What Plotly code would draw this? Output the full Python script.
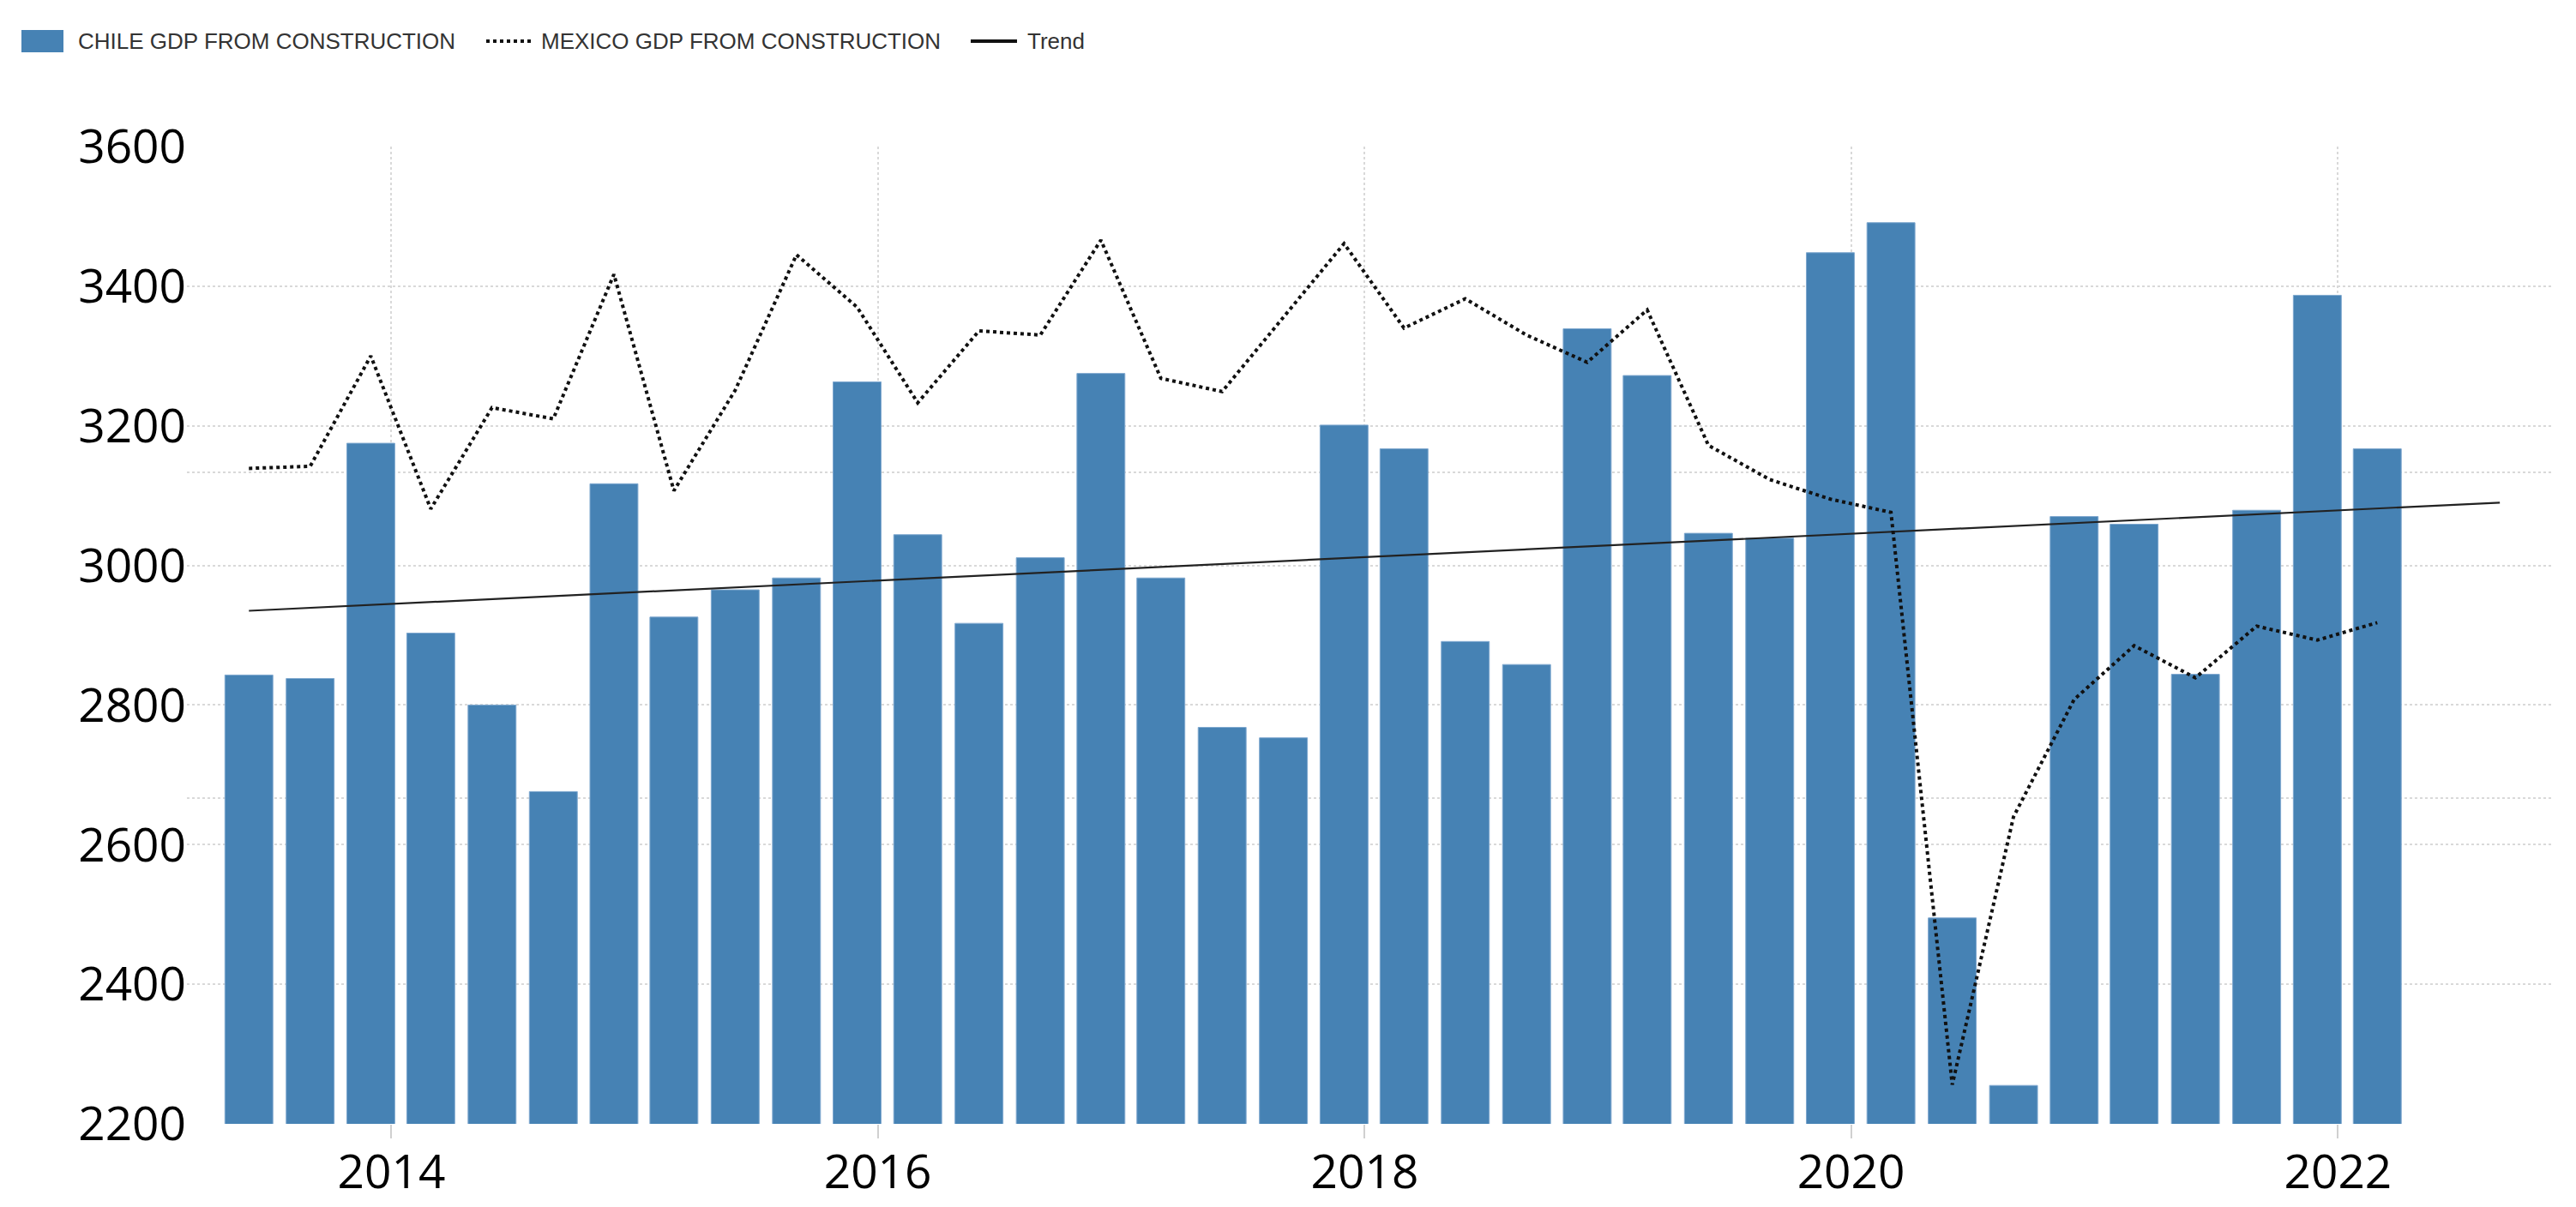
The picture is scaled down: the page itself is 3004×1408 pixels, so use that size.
import plotly.graph_objects as go

# ---- data ----
quarter_dates = [
    "2013-06-01", "2013-09-01", "2013-12-01", "2014-03-01", "2014-06-01", "2014-09-01",
    "2014-12-01", "2015-03-01", "2015-06-01", "2015-09-01", "2015-12-01", "2016-03-01",
    "2016-06-01", "2016-09-01", "2016-12-01", "2017-03-01", "2017-06-01", "2017-09-01",
    "2017-12-01", "2018-03-01", "2018-06-01", "2018-09-01", "2018-12-01", "2019-03-01",
    "2019-06-01", "2019-09-01", "2019-12-01", "2020-03-01", "2020-06-01", "2020-09-01",
    "2020-12-01", "2021-03-01", "2021-06-01", "2021-09-01", "2021-12-01", "2022-03-01",
]
chile_values = [
    2843, 2838, 3175, 2903, 2800, 2676, 3117, 2926, 2965, 2982,
    3263, 3044, 2917, 3011, 3275, 2982, 2768, 2753, 3201, 3167,
    2891, 2858, 3339, 3272, 3046, 3039, 3448, 3491, 2495, 2255,
    3070, 3059, 2844, 3079, 3387, 3167,
]
mexico_values = [
    3139, 3142, 3300, 3081, 3226, 3210, 3417, 3107, 3251, 3445,
    3370, 3233, 3336, 3330, 3466, 3268, 3249, 3356, 3461, 3340,
    3382, 3330, 3291, 3366, 3172, 3123, 3095, 3076, 2256, 2640,
    2808, 2885, 2839, 2913, 2893, 2918,
]
trend_dates = ["2013-06-01", "2022-09-01"]
trend_values = [2935, 3090]

year_ticks = ["2014-01-01", "2016-01-01", "2018-01-01", "2020-01-01", "2022-01-01"]
year_labels = ["2014", "2016", "2018", "2020", "2022"]
y_ticks = [2200, 2400, 2600, 2800, 3000, 3200, 3400, 3600]

legend_labels = ["CHILE GDP FROM CONSTRUCTION", "MEXICO GDP FROM CONSTRUCTION", "Trend"]

# ---- layout geometry (page has an 8px body margin) ----
OFF = 8
W, H = 3004 - OFF, 1408 - OFF
ML, MR, MT, MB = 218 - OFF, 29, 171 - OFF, 97
PW, PH = W - ML - MR, H - MT - MB

BAR_COLOR = "#4682b4"
GRID = "#d9d9d9"
TICK_FONT = dict(family="Open Sans, sans-serif", size=55, color="#000000")


def px_x(p):
    return (p - OFF - ML) / PW


def px_y(p):
    return (H - MB - (p - OFF)) / PH


fig = go.Figure()

fig.add_trace(go.Bar(
    x=quarter_dates, y=chile_values, name=legend_labels[0],
    marker=dict(color=BAR_COLOR, line=dict(color="#7fa8cf", width=1)),
    showlegend=False,
))
fig.add_trace(go.Scatter(
    x=trend_dates, y=trend_values, name=legend_labels[2], mode="lines",
    line=dict(color="#222222", width=2.2),
    showlegend=False,
))
fig.add_trace(go.Scatter(
    x=quarter_dates, y=mexico_values, name=legend_labels[1], mode="lines",
    line=dict(color="#111111", width=4, dash="dot"),
    yaxis="y2", showlegend=False,
))

# ---- custom legend (symbols + labels) ----
leg_y = 48
shapes = [
    dict(type="rect", xref="paper", yref="paper",
         x0=px_x(25), x1=px_x(74), y0=px_y(61), y1=px_y(35),
         fillcolor=BAR_COLOR, line=dict(width=0)),
    dict(type="line", xref="paper", yref="paper",
         x0=px_x(567), x1=px_x(620), y0=px_y(leg_y), y1=px_y(leg_y),
         line=dict(color="#111111", width=4, dash="dot")),
    dict(type="line", xref="paper", yref="paper",
         x0=px_x(1132), x1=px_x(1186), y0=px_y(leg_y), y1=px_y(leg_y),
         line=dict(color="#111111", width=4)),
]
annotations = []
for label, xs in zip(legend_labels, [89, 629, 1196]):
    annotations.append(dict(
        text=label, xref="paper", yref="paper", x=px_x(xs), y=px_y(leg_y),
        xanchor="left", yanchor="middle", showarrow=False,
        font=dict(family="Liberation Sans, Arial, sans-serif", size=26, color="#333333"),
    ))

fig.update_layout(
    width=W, height=H, autosize=False,
    margin=dict(l=ML, r=MR, t=MT, b=MB, pad=0, autoexpand=False),
    paper_bgcolor="white", plot_bgcolor="white",
    bargap=0.2,
    shapes=shapes, annotations=annotations,
    xaxis=dict(
        type="date", range=["2013-02-28", "2022-11-17"],
        tickvals=year_ticks, ticktext=year_labels,
        showgrid=True, gridcolor=GRID, gridwidth=1.5, griddash="dot",
        ticks="outside", ticklen=16, tickwidth=2, tickcolor="#d0d0d0",
        ticklabelstandoff=-8,
        showline=False, zeroline=False, automargin=False,
        tickfont=TICK_FONT,
    ),
    yaxis=dict(
        range=[2200, 3600], tickvals=y_ticks,
        showgrid=True, gridcolor=GRID, gridwidth=1.5, griddash="dot",
        zeroline=False, showline=False, ticks="", automargin=False,
        tickfont=TICK_FONT,
    ),
    yaxis2=dict(
        overlaying="y", side="right", range=[2200, 3600],
        tick0=2200, dtick=1400 / 3,
        showgrid=True, gridcolor=GRID, gridwidth=1.5, griddash="dot",
        showticklabels=False, zeroline=False, showline=False, ticks="",
        automargin=False,
    ),
)

fig.write_html("out.html")
